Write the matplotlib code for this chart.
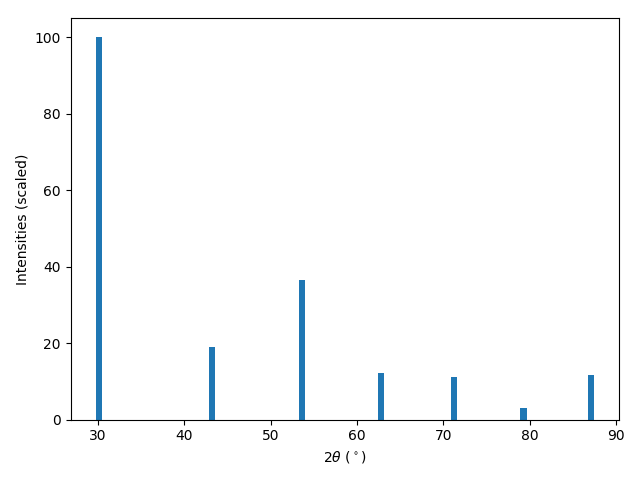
import matplotlib
matplotlib.use("Agg")
from matplotlib import pyplot as plt

# peak positions (2theta, degrees) and scaled intensities
two_theta = [30.08, 43.17, 53.6, 62.77, 71.24, 79.3, 87.12]
intensity = [100.0, 18.9, 36.4, 12.3, 11.2, 3.1, 11.8]

fig, ax = plt.subplots(figsize=(6.4, 4.8), dpi=100)
ax.bar(two_theta, intensity, width=0.75)
ax.set_xlabel(r"2$\theta$ ($^\circ$)")
ax.set_ylabel("Intensities (scaled)")
fig.tight_layout()
fig.subplots_adjust(top=0.9625)
fig.savefig("out.png")
